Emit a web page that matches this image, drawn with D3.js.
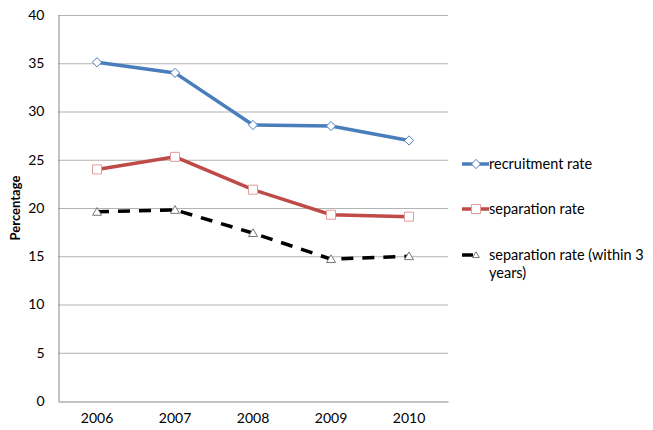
<!DOCTYPE html>
<html>
<head>
<meta charset="utf-8">
<script src="https://cdn.jsdelivr.net/npm/d3@7"></script>
<style>
  html, body { margin: 0; padding: 0; background: #fff; }
  svg { display: block; font-family: Lato, "Open Sans", sans-serif; }
</style>
</head>
<body>
<svg id="chart" width="653" height="430"></svg>
<script>
// Years along the x axis
const years = ["2006", "2007", "2008", "2009", "2010"];
// Rates in percent
const recruitmentRate = [35.1, 34.0, 28.6, 28.5, 27.0];
const separationRate = [24.0, 25.3, 21.9, 19.3, 19.1];
const separationWithin3 = [19.6, 19.8, 17.4, 14.7, 15.0];
const yTicks = [0, 5, 10, 15, 20, 25, 30, 35, 40];

const series = [
  { name: "recruitment rate", values: recruitmentRate, color: "#4a7ebb", marker: "diamond", markerStroke: "#4a7ebb", dash: null },
  { name: "separation rate", values: separationRate, color: "#be4b48", marker: "square", markerStroke: "#e39c9a", dash: null },
  { name: "separation rate (within 3 years)", values: separationWithin3, color: "#000", marker: "triangle", markerStroke: "#777", dash: "12,9" }
];

const svg = d3.select("#chart");
const m = { left: 58, right: 448, top: 15, bottom: 401 };

const x = d3.scaleBand().domain(years).range([m.left, m.right]);
const y = d3.scaleLinear().domain([0, 40]).range([m.bottom, m.top]);
const cx = d => x(d) + x.bandwidth() / 2;

// Horizontal gridlines
svg.append("g").selectAll("line").data(yTicks.filter(t => t > 0)).join("line")
  .attr("x1", m.left).attr("x2", m.right)
  .attr("y1", d => y(d) + 0.5).attr("y2", d => y(d) + 0.5)
  .attr("stroke", "#b3b3b3").attr("stroke-width", 1);

// Y axis
const yAxis = svg.append("g").attr("transform", `translate(${m.left + 0.5},0)`)
  .call(d3.axisLeft(y).tickValues(yTicks).tickSize(0).tickPadding(14));
yAxis.select(".domain").attr("stroke", "#868686");
yAxis.selectAll("text").attr("font-size", 14).attr("fill", "#000")
  .attr("font-family", "Lato, 'Open Sans', sans-serif");

// X axis
const xAxis = svg.append("g").attr("transform", `translate(0,${m.bottom + 0.5})`)
  .call(d3.axisBottom(x).tickSize(0).tickPadding(12));
xAxis.select(".domain").attr("stroke", "#868686");
xAxis.selectAll("text").attr("font-size", 14).attr("fill", "#000")
  .attr("font-family", "Lato, 'Open Sans', sans-serif");

// Y axis title
svg.append("text")
  .attr("transform", `translate(20,${(m.top + m.bottom) / 2}) rotate(-90)`)
  .attr("text-anchor", "middle")
  .attr("font-size", 13).attr("font-weight", "bold")
  .text("Percentage");

// Marker shapes: a square turned 45° for the diamond, a plain square, a small triangle
const markerPath = {
  diamond: "M0,-4.6L4.6,0L0,4.6L-4.6,0Z",
  square: d3.symbol().type(d3.symbolSquare).size(81)(),
  triangle: "M0,-4.3L4.5,3.4L-4.5,3.4Z"
};

function drawMarker(g, s, px, py, scale = 1) {
  g.append("path")
    .attr("d", markerPath[s.marker])
    .attr("transform", `translate(${px},${py}) scale(${scale})`)
    .attr("fill", "#fff")
    .attr("stroke", s.markerStroke)
    .attr("stroke-width", 1 / scale);
}

const line = d3.line().x((d, i) => cx(years[i])).y(d => y(d));

series.forEach(s => {
  const g = svg.append("g");
  g.append("path")
    .attr("d", line(s.values))
    .attr("fill", "none")
    .attr("stroke", s.color)
    .attr("stroke-width", 3.5)
    .attr("stroke-dasharray", s.dash);
  s.values.forEach((v, i) => drawMarker(g, s, cx(years[i]), y(v)));
});

// Legend
const legendY = [164, 209, 255];
series.forEach((s, i) => {
  const g = svg.append("g");
  const ly = legendY[i];
  g.append("line").attr("x1", i === 2 ? 462 : 462).attr("x2", i === 2 ? 473 : 489).attr("y1", ly).attr("y2", ly)
    .attr("stroke", s.color).attr("stroke-width", 3.5);
  drawMarker(g, s, 476, ly, i === 2 ? 0.75 : 1);
  const t = g.append("text").attr("x", 489).attr("y", ly + 5)
    .attr("font-size", 14.5).attr("fill", "#000");
  if (i === 2) {
    t.append("tspan").attr("x", 489).text("separation rate (within 3");
    t.append("tspan").attr("x", 489).attr("dy", 18).text("years)");
  } else {
    t.text(s.name);
  }
});
</script>
</body>
</html>
